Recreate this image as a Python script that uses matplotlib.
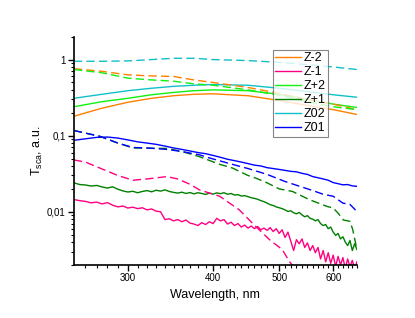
import numpy as np
import matplotlib
matplotlib.use('Agg')
import matplotlib.pyplot as plt
from matplotlib.ticker import FixedLocator, NullFormatter, LogLocator

plt.rcParams['font.family'] = ['Liberation Sans', 'DejaVu Sans']
plt.rcParams['mathtext.default'] = 'regular'

# smooth spectra (upper group), nm
wl_s = [250, 275, 300, 325, 350, 375, 400, 450, 500, 550, 600, 650]
z02_solid = [0.31, 0.35, 0.39, 0.42, 0.445, 0.46, 0.47, 0.46, 0.42, 0.38, 0.345, 0.32]
zp2_solid = [0.24, 0.28, 0.31, 0.345, 0.37, 0.39, 0.40, 0.39, 0.35, 0.30, 0.26, 0.235]
zm2_solid = [0.18, 0.23, 0.275, 0.31, 0.335, 0.35, 0.355, 0.335, 0.29, 0.25, 0.22, 0.19]
z02_dash = [0.95, 0.95, 0.96, 1.0, 1.04, 1.04, 1.0, 0.97, 0.92, 0.86, 0.80, 0.74]
zm2_dash = [0.76, 0.70, 0.63, 0.61, 0.60, 0.54, 0.50, 0.43, 0.36, 0.30, 0.26, 0.22]
zp2_dash = [0.74, 0.67, 0.57, 0.54, 0.52, 0.48, 0.46, 0.40, 0.34, 0.28, 0.24, 0.22]

# Z01 solid, 10 nm step
wl_10 = list(range(250, 651, 10))
z01_solid = [0.087, 0.091, 0.095, 0.096, 0.093, 0.088, 0.083, 0.080, 0.077, 0.073,
             0.069, 0.066, 0.063, 0.060, 0.058, 0.055, 0.052, 0.049, 0.047, 0.045,
             0.043, 0.041, 0.040, 0.038, 0.037, 0.036, 0.035, 0.034, 0.0335, 0.032,
             0.031, 0.029, 0.028, 0.027, 0.026, 0.0242, 0.0234, 0.0226, 0.0228, 0.0219,
             0.0216]

# dashed lower curves
wl_z01d = [250, 260, 273, 290, 305, 320, 342, 360, 382, 395, 427, 450, 480, 510,
           536, 560, 580, 600, 620, 635, 650]
z01_dash = [0.117, 0.108, 0.098, 0.080, 0.070, 0.069, 0.066, 0.062, 0.056, 0.051,
            0.042, 0.037, 0.031, 0.025, 0.0216, 0.019, 0.017, 0.016, 0.013, 0.0125,
            0.0101]
wl_zp1d = [250, 273, 290, 305, 342, 360, 382, 409, 427, 450, 462, 480, 500, 523,
           553, 587, 600, 610, 621, 635, 641, 650]
zp1_dash = [0.117, 0.098, 0.080, 0.069, 0.068, 0.062, 0.053, 0.042, 0.0376, 0.030,
            0.0277, 0.024, 0.020, 0.0185, 0.0145, 0.0118, 0.0112, 0.0096, 0.0078,
            0.0075, 0.0058, 0.0032]
wl_zm1d = [250, 260, 273, 290, 305, 320, 342, 355, 370, 382, 409, 437, 462, 484,
           505, 518, 525]
zm1_dash = [0.048, 0.045, 0.0375, 0.030, 0.026, 0.027, 0.029, 0.027, 0.023, 0.0194,
            0.016, 0.0106, 0.0064, 0.0043, 0.0032, 0.0022, 0.0019]

# noisy solid curves, 5 nm step
wl_5 = list(range(250, 651, 5))
zp1_solid = [0.024, 0.0228, 0.0225, 0.0218, 0.0222, 0.0212, 0.0205, 0.0213, 0.0198, 0.0188,
             0.0182, 0.0186, 0.0178, 0.0185, 0.0190, 0.0183, 0.0192, 0.0187, 0.0194, 0.0185,
             0.0180, 0.0176, 0.0181, 0.0174, 0.0179, 0.0172, 0.0178, 0.0174, 0.0169, 0.0176,
             0.0171, 0.0177, 0.0173, 0.0178, 0.0170, 0.0174, 0.0166, 0.0168, 0.0161, 0.0163,
             0.0158, 0.0153, 0.0150, 0.0146, 0.0140, 0.0136, 0.0130, 0.0124, 0.0121, 0.0116,
             0.0113, 0.0110, 0.0106, 0.0101, 0.0103, 0.0097, 0.0094, 0.0098, 0.0091, 0.0086,
             0.0089, 0.0082, 0.0080, 0.0076, 0.0079, 0.0070, 0.0066, 0.0068, 0.0060, 0.0063,
             0.0054, 0.0049, 0.0052, 0.0044, 0.0047, 0.0040, 0.0036, 0.0042, 0.0031, 0.0038,
             0.0032]
zm1_solid = [0.0145, 0.0140, 0.0137, 0.0131, 0.0134, 0.0127, 0.0132, 0.0122, 0.0116, 0.0119,
             0.0112, 0.0115, 0.0110, 0.0113, 0.0106, 0.0109, 0.0102, 0.0100, 0.0079, 0.0081,
             0.0076, 0.0079, 0.0074, 0.0078, 0.0071, 0.0069, 0.0066, 0.0072, 0.0068, 0.0074,
             0.0070, 0.0082, 0.0076, 0.0079, 0.0069, 0.0073, 0.0066, 0.0070, 0.0063, 0.0067,
             0.0061, 0.0065, 0.0060, 0.0064, 0.0058, 0.0061, 0.0057, 0.0062, 0.0055, 0.0060,
             0.0052, 0.0058, 0.0046, 0.0054, 0.0041, 0.0031, 0.0043, 0.0038, 0.0044, 0.0034,
             0.0039, 0.0031, 0.0036, 0.0029, 0.0034, 0.0024, 0.0031, 0.0022, 0.0029, 0.0021,
             0.0027, 0.0019, 0.0026, 0.0020, 0.0025, 0.0018, 0.0024, 0.0019, 0.0023, 0.0018,
             0.0022]

colors = {'Z-2': '#ff8000', 'Z-1': '#ff0080', 'Z+2': '#11f011',
          'Z+1': '#008000', 'Z02': '#10c0c8', 'Z01': '#0000ff'}

fig = plt.figure(figsize=(4.15, 3.18), dpi=100)
ax = fig.add_axes([0.178, 0.1667, 0.682, 0.718])

lw = 1.0
dash = (6, 3)

# solid lines (legend entries)
ax.plot(wl_s, zm2_solid, color=colors['Z-2'], lw=lw, label='Z-2')
ax.plot(wl_5, zm1_solid, color=colors['Z-1'], lw=lw, label='Z-1')
ax.plot(wl_s, zp2_solid, color=colors['Z+2'], lw=lw, label='Z+2')
ax.plot(wl_5, zp1_solid, color=colors['Z+1'], lw=lw, label='Z+1')
ax.plot(wl_s, z02_solid, color=colors['Z02'], lw=lw, label='Z02')
ax.plot(wl_10, z01_solid, color=colors['Z01'], lw=lw, label='Z01')

# dashed lines
ax.plot(wl_s, zm2_dash, color=colors['Z-2'], lw=lw, dashes=dash)
ax.plot(wl_zm1d, zm1_dash, color=colors['Z-1'], lw=lw, dashes=dash)
ax.plot(wl_s, zp2_dash, color=colors['Z+2'], lw=lw, dashes=dash)
ax.plot(wl_zp1d, zp1_dash, color=colors['Z+1'], lw=lw, dashes=dash)
ax.plot(wl_s, z02_dash, color=colors['Z02'], lw=lw, dashes=dash)
ax.plot(wl_z01d, z01_dash, color=colors['Z01'], lw=lw, dashes=dash)

ax.set_xscale('log')
ax.set_yscale('log')
ax.set_xlim(250, 650)
ax.set_ylim(0.002, 2)

ax.xaxis.set_major_locator(FixedLocator([300, 400, 500, 600]))
ax.set_xticklabels(['300', '400', '500', '600'])
ax.xaxis.set_minor_locator(FixedLocator([v for v in range(260, 651, 10) if v % 100 != 0]))
ax.xaxis.set_minor_formatter(NullFormatter())

ax.yaxis.set_major_locator(FixedLocator([0.01, 0.1, 1]))
ax.set_yticklabels(['0,01', '0,1', '1'])
ax.yaxis.set_minor_locator(LogLocator(base=10, subs=np.arange(2, 10)))
ax.yaxis.set_minor_formatter(NullFormatter())

for s in ['top', 'right']:
    ax.spines[s].set_visible(False)
for s in ['left', 'bottom']:
    ax.spines[s].set_linewidth(1.2)

ax.tick_params(which='major', direction='out', length=4, width=1.0, labelsize=7, pad=2)
ax.tick_params(which='minor', direction='out', length=2.2, width=0.8)

ax.set_xlabel('Wavelength, nm', fontsize=9, labelpad=4)
ax.set_ylabel(r'T$_{sca}$, a.u.', fontsize=9, labelpad=1)

leg = ax.legend(loc='upper left', bbox_to_anchor=(0.702, 0.942), borderaxespad=0,
                fontsize=9, frameon=True, fancybox=False, handlelength=2.1,
                handletextpad=0.2, labelspacing=0.16, borderpad=0.2)
leg.get_frame().set_edgecolor('#666666')
leg.get_frame().set_linewidth(0.8)

fig.savefig('out.png', dpi=100)
